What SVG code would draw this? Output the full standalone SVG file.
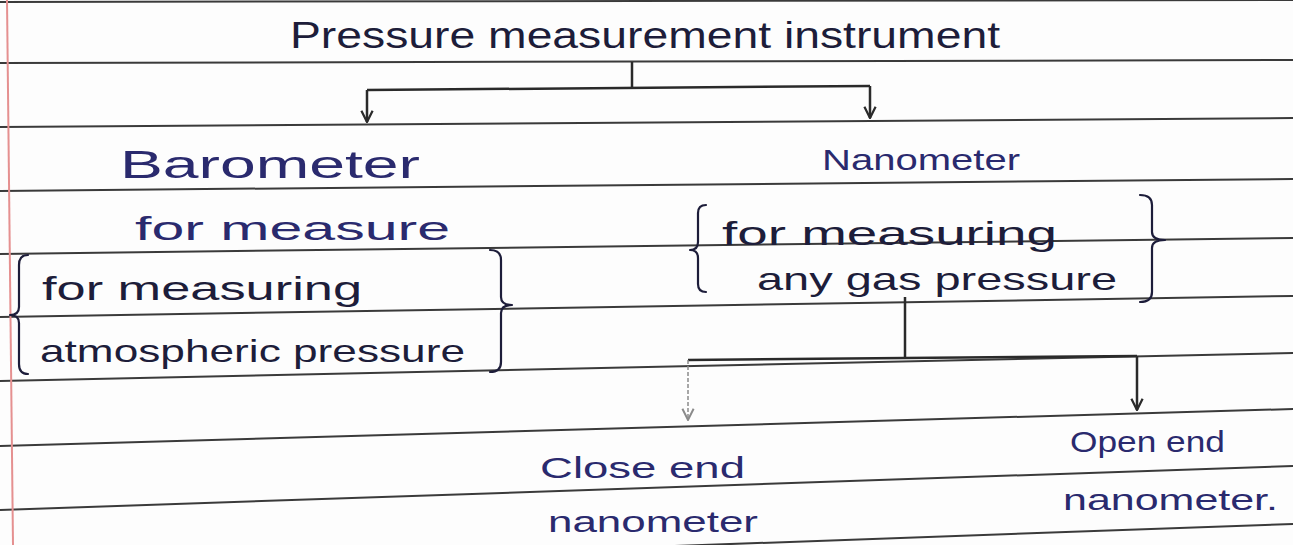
<svg xmlns="http://www.w3.org/2000/svg" width="1293" height="545" viewBox="0 0 1293 545">
<style>
.rule{stroke:#3a3a3a;stroke-width:2;fill:none}
.margin{stroke:#e59090;stroke-width:2;fill:none}
.ink{fill:#1d1d3a;font-family:"Liberation Sans","DejaVu Sans",sans-serif}
.blue{fill:#2a2a6e;font-family:"Liberation Sans","DejaVu Sans",sans-serif}
.brace{stroke:#1d1d3a;stroke-width:2.2;fill:none;stroke-linecap:round;stroke-linejoin:round}
.con{stroke:#2a2a2a;stroke-width:2.5;fill:none}
.faint{stroke:#8a8a8a;stroke-width:1.5;fill:none;stroke-dasharray:4 2}
</style>
<defs>
<marker id="arr" viewBox="0 0 10 10" refX="9" refY="5" markerWidth="14" markerHeight="14" markerUnits="userSpaceOnUse" orient="auto">
<path d="M1,1 L9,5 L1,9" fill="none" stroke="#2a2a2a" stroke-width="1.6"/>
</marker>
<marker id="arrf" viewBox="0 0 10 10" refX="9" refY="5" markerWidth="14" markerHeight="14" markerUnits="userSpaceOnUse" orient="auto">
<path d="M1,1 L9,5 L1,9" fill="none" stroke="#8a8a8a" stroke-width="1.4"/>
</marker>
</defs>
<rect width="1293" height="545" fill="#fdfdfd"/>
<g id="paper">
<line class="rule" x1="0" y1="2" x2="1293" y2="0"/>
<line class="rule" x1="0" y1="63" x2="1293" y2="60"/>
<line class="rule" x1="0" y1="127" x2="1293" y2="118"/>
<line class="rule" x1="0" y1="191" x2="1293" y2="179"/>
<line class="rule" x1="0" y1="254" x2="1293" y2="238"/>
<line class="rule" x1="0" y1="317" x2="1293" y2="296"/>
<line class="rule" x1="0" y1="381" x2="1293" y2="353"/>
<line class="rule" x1="0" y1="446" x2="1293" y2="409"/>
<line class="rule" x1="0" y1="510" x2="1293" y2="466"/>
<line class="rule" x1="0" y1="570" x2="1293" y2="524"/>
<line class="margin" x1="7" y1="0" x2="13" y2="545"/>
</g>
<g id="connectors">
<path class="con" d="M632,62 L632,88"/>
<path class="con" d="M367,90 L870,86"/>
<path class="con" d="M367,90 L367,122" marker-end="url(#arr)"/>
<path class="con" d="M870,86 L870,118" marker-end="url(#arr)"/>
<path class="con" d="M905,297 L905,358"/>
<path class="con" d="M688,360 L1137,356"/>
<path class="faint" d="M688,360 L688,420" marker-end="url(#arrf)"/>
<path class="con" d="M1137,356 L1137,410" marker-end="url(#arr)"/>
</g>
<g id="root">
<text class="ink" x="290" y="48" font-size="36" textLength="710" lengthAdjust="spacingAndGlyphs">Pressure measurement instrument</text>
</g>
<g id="barometer">
<text class="blue" x="120" y="178" font-size="38" textLength="300" lengthAdjust="spacingAndGlyphs">Barometer</text>
<text class="blue" x="135" y="240" font-size="34" textLength="315" lengthAdjust="spacingAndGlyphs">for measure</text>
<path class="brace" d="M28,255 Q19,255 19,265 L19,307 Q19,315 10,315 Q19,315 19,323 L19,364 Q19,374 28,374"/>
<text class="ink" x="42" y="300" font-size="34" textLength="320" lengthAdjust="spacingAndGlyphs">for measuring</text>
<text class="ink" x="40" y="362" font-size="32" textLength="425" lengthAdjust="spacingAndGlyphs">atmospheric pressure</text>
<path class="brace" d="M490,250 Q501,250 501,260 L501,297 Q501,305 512,305 Q501,305 501,313 L501,362 Q501,372 490,372"/>
</g>
<g id="nanometer">
<text class="blue" x="822" y="170" font-size="30" textLength="198" lengthAdjust="spacingAndGlyphs">Nanometer</text>
<path class="brace" d="M706,205 Q698,205 698,213 L698,242 Q698,250 690,250 Q698,250 698,258 L698,284 Q698,292 706,292"/>
<text class="ink" x="722" y="245" font-size="34" textLength="335" lengthAdjust="spacingAndGlyphs">for measuring</text>
<text class="ink" x="757" y="290" font-size="32" textLength="360" lengthAdjust="spacingAndGlyphs">any gas pressure</text>
<path class="brace" d="M1140,195 Q1152,195 1152,205 L1152,232 Q1152,240 1165,240 Q1152,240 1152,248 L1152,292 Q1152,302 1140,302"/>
</g>
<g id="close-end">
<text class="blue" x="540" y="478" font-size="30" textLength="205" lengthAdjust="spacingAndGlyphs">Close end</text>
<text class="blue" x="548" y="532" font-size="30" textLength="210" lengthAdjust="spacingAndGlyphs">nanometer</text>
</g>
<g id="open-end">
<text class="blue" x="1070" y="452" font-size="30" textLength="155" lengthAdjust="spacingAndGlyphs">Open end</text>
<text class="blue" x="1063" y="510" font-size="30" textLength="215" lengthAdjust="spacingAndGlyphs">nanometer.</text>
</g>
</svg>
